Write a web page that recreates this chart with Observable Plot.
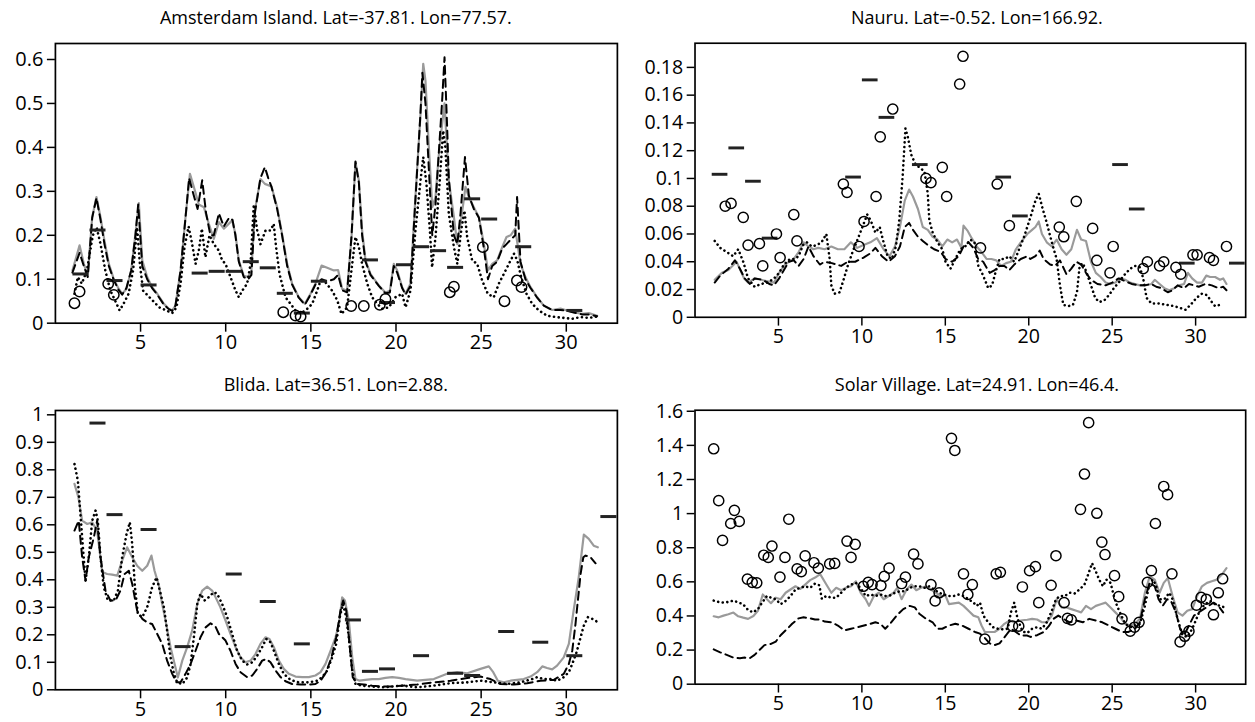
<!DOCTYPE html>
<html><head><meta charset="utf-8">
<script src="https://cdn.jsdelivr.net/npm/d3@7"></script>
<script src="https://cdn.jsdelivr.net/npm/@observablehq/plot@0.6"></script>
<style>
html,body{margin:0;padding:0;background:#fff;width:1255px;height:722px;overflow:hidden;}
#root{position:relative;width:1255px;height:722px;overflow:hidden;font-family:"Open Sans",sans-serif;}
.panel{position:absolute;}
.panel svg text{font-size:20px;font-family:"Open Sans",sans-serif;fill:#000;}
.title{position:absolute;width:600px;text-align:center;font-size:18px;line-height:24px;color:#000;white-space:nowrap;}
</style></head><body><div id="root"></div>
<script>
// ---------- shared ticks ----------
const xTicks = [5, 10, 15, 20, 25, 30];
const amsYTicks = [0, 0.1, 0.2, 0.3, 0.4, 0.5, 0.6];
const nauYTicks = [0, 0.02, 0.04, 0.06, 0.08, 0.1, 0.12, 0.14, 0.16, 0.18];
const bliYTicks = [0, 0.1, 0.2, 0.3, 0.4, 0.5, 0.6, 0.7, 0.8, 0.9, 1];
const solYTicks = [0, 0.2, 0.4, 0.6, 0.8, 1, 1.2, 1.4, 1.6];

// ---------- Amsterdam Island ----------
const amsGray = [[1.0,0.12],[1.42,0.177],[1.67,0.135],[1.9,0.108],[2.16,0.241],[2.41,0.287],[2.65,0.241],[2.88,0.188],[3.14,0.135],[3.43,0.10],[3.72,0.078],[3.92,0.067],[4.17,0.078],[4.45,0.12],[4.7,0.203],[4.9,0.273],[5.1,0.143],[5.39,0.105],[5.68,0.082],[5.98,0.067],[6.37,0.044],[6.66,0.033],[6.86,0.029],[7.05,0.04],[7.35,0.12],[7.64,0.241],[7.9,0.34],[8.13,0.31],[8.42,0.27],[8.72,0.264],[9.01,0.226],[9.3,0.192],[9.6,0.23],[9.89,0.215],[10.38,0.234],[10.57,0.203],[10.77,0.143],[11.06,0.108],[11.32,0.105],[11.51,0.12],[11.71,0.256],[12.04,0.328],[12.3,0.317],[12.69,0.311],[13.02,0.264],[13.31,0.203],[13.61,0.135],[13.9,0.09],[14.29,0.059],[14.65,0.044],[14.98,0.067],[15.27,0.09],[15.63,0.131],[15.96,0.126],[16.35,0.12],[16.6,0.121],[16.84,0.078],[17.13,0.074],[17.39,0.196],[17.62,0.366],[17.82,0.325],[18.01,0.211],[18.21,0.143],[18.5,0.112],[18.99,0.086],[19.38,0.07],[19.64,0.074],[19.87,0.135],[20.07,0.12],[20.36,0.082],[20.56,0.067],[20.85,0.09],[21.14,0.287],[21.44,0.476],[21.6,0.59],[21.73,0.552],[21.93,0.40],[22.13,0.264],[22.32,0.287],[22.5,0.378],[22.7,0.45],[22.85,0.50],[23.1,0.325],[23.4,0.241],[23.6,0.18],[23.79,0.226],[24.08,0.31],[24.28,0.287],[24.57,0.264],[24.87,0.241],[25.16,0.18],[25.4,0.12],[25.65,0.135],[25.94,0.143],[26.24,0.173],[26.49,0.196],[26.73,0.2],[27.0,0.215],[27.31,0.135],[27.6,0.105],[27.9,0.082],[28.29,0.059],[28.68,0.04],[29.17,0.03],[29.66,0.033],[30.05,0.029],[30.44,0.025],[30.93,0.021],[31.32,0.023],[31.81,0.017]];
const amsDash = [[1.0,0.115],[1.42,0.16],[1.67,0.13],[1.9,0.105],[2.16,0.24],[2.41,0.285],[2.65,0.235],[2.88,0.18],[3.14,0.13],[3.43,0.098],[3.72,0.075],[3.92,0.065],[4.17,0.08],[4.45,0.12],[4.7,0.2],[4.86,0.27],[5.1,0.13],[5.39,0.1],[5.68,0.08],[5.98,0.065],[6.37,0.042],[6.66,0.032],[6.86,0.028],[7.05,0.04],[7.35,0.12],[7.64,0.24],[7.85,0.33],[8.13,0.29],[8.35,0.26],[8.62,0.325],[8.85,0.25],[9.1,0.2],[9.3,0.2],[9.6,0.25],[9.89,0.22],[10.2,0.24],[10.4,0.235],[10.57,0.2],[10.77,0.14],[11.06,0.105],[11.32,0.1],[11.51,0.11],[11.71,0.25],[12.04,0.33],[12.3,0.355],[12.5,0.33],[12.69,0.31],[13.02,0.26],[13.31,0.2],[13.61,0.13],[13.9,0.088],[14.29,0.058],[14.65,0.042],[14.98,0.065],[15.27,0.088],[15.63,0.1],[15.96,0.095],[16.35,0.1],[16.6,0.11],[16.84,0.075],[17.13,0.07],[17.39,0.2],[17.62,0.368],[17.82,0.32],[18.01,0.2],[18.21,0.14],[18.5,0.11],[18.99,0.085],[19.38,0.068],[19.64,0.07],[19.87,0.13],[20.07,0.115],[20.36,0.08],[20.56,0.065],[20.85,0.085],[21.14,0.28],[21.44,0.48],[21.55,0.57],[21.73,0.5],[21.93,0.35],[22.13,0.2],[22.32,0.27],[22.5,0.38],[22.7,0.5],[22.85,0.605],[23.0,0.45],[23.1,0.33],[23.4,0.2],[23.6,0.18],[23.79,0.25],[24.05,0.378],[24.28,0.29],[24.57,0.26],[24.87,0.24],[25.16,0.17],[25.4,0.1],[25.65,0.13],[25.94,0.14],[26.24,0.17],[26.49,0.18],[26.73,0.19],[27.0,0.2],[27.11,0.287],[27.31,0.14],[27.6,0.1],[27.9,0.08],[28.29,0.058],[28.68,0.04],[29.17,0.03],[29.66,0.03],[30.05,0.028],[30.44,0.024],[30.93,0.02],[31.32,0.02],[31.81,0.016]];
const amsDot = [[1.12,0.067],[1.32,0.105],[1.55,0.09],[1.85,0.12],[2.2,0.2],[2.42,0.218],[2.65,0.18],[2.93,0.12],[3.22,0.075],[3.5,0.052],[3.77,0.029],[4.0,0.044],[4.3,0.067],[4.56,0.12],[4.8,0.218],[4.96,0.135],[5.15,0.074],[5.5,0.06],[5.8,0.048],[6.1,0.036],[6.5,0.029],[6.86,0.023],[7.11,0.036],[7.35,0.09],[7.58,0.173],[7.82,0.22],[8.03,0.18],[8.23,0.135],[8.42,0.165],[8.6,0.215],[8.81,0.15],[9.05,0.2],[9.3,0.18],[9.6,0.165],[9.79,0.143],[9.99,0.135],[10.28,0.105],[10.58,0.074],[10.77,0.059],[10.97,0.074],[11.26,0.09],[11.46,0.135],[11.65,0.27],[11.85,0.211],[12.04,0.18],[12.34,0.211],[12.63,0.211],[12.82,0.226],[12.96,0.173],[13.16,0.112],[13.51,0.059],[13.81,0.044],[14.1,0.029],[14.39,0.023],[14.69,0.029],[15.08,0.044],[15.37,0.074],[15.57,0.097],[15.86,0.093],[16.25,0.074],[16.55,0.052],[16.8,0.021],[17.13,0.036],[17.43,0.135],[17.62,0.196],[17.82,0.173],[18.01,0.135],[18.31,0.09],[18.6,0.059],[18.9,0.044],[19.19,0.033],[19.58,0.036],[19.97,0.059],[20.36,0.067],[20.56,0.036],[20.85,0.074],[21.14,0.211],[21.44,0.325],[21.6,0.378],[21.79,0.317],[21.99,0.211],[22.12,0.127],[22.32,0.196],[22.57,0.325],[22.77,0.438],[22.9,0.40],[23.1,0.249],[23.4,0.173],[23.6,0.135],[23.83,0.211],[24.02,0.256],[24.18,0.196],[24.47,0.143],[24.77,0.135],[25.06,0.097],[25.39,0.067],[25.74,0.059],[26.04,0.09],[26.33,0.112],[26.63,0.135],[26.93,0.158],[27.12,0.143],[27.35,0.105],[27.66,0.067],[28.0,0.044],[28.39,0.029],[28.87,0.017],[29.37,0.014],[29.85,0.012],[30.35,0.01],[30.83,0.014],[31.32,0.012],[31.81,0.015]];
const amsObs = [[1.12,0.0455],[1.42,0.072],[3.1,0.0895],[3.43,0.0645],[13.38,0.025],[14.1,0.0175],[14.4,0.015],[17.37,0.039],[18.11,0.039],[19.05,0.042],[19.38,0.055],[23.16,0.0705],[23.4,0.083],[25.1,0.173],[26.37,0.05],[27.1,0.097],[27.37,0.082]];
const amsMonthly = [[1.5,0.112],[2.5,0.212],[3.5,0.097],[5.5,0.087],[8.5,0.114],[9.5,0.118],[10.5,0.118],[11.5,0.14],[12.5,0.126],[13.5,0.068],[14.5,0.023],[15.5,0.0955],[18.5,0.144],[19.5,0.047],[20.5,0.133],[21.5,0.174],[22.5,0.165],[23.5,0.127],[24.5,0.283],[25.5,0.237],[27.5,0.174],[30.5,0.029]];

// ---------- Nauru ----------
const nauGray = [[1.18,0.027],[1.61,0.032],[2.0,0.034],[2.49,0.04],[2.94,0.028],[3.18,0.025],[3.57,0.028],[3.96,0.027],[4.35,0.026],[4.74,0.025],[5.04,0.032],[5.33,0.037],[5.62,0.04],[5.92,0.042],[6.21,0.047],[6.51,0.054],[6.8,0.051],[7.1,0.049],[7.38,0.05],[7.77,0.049],[8.17,0.051],[8.56,0.049],[8.95,0.049],[9.34,0.054],[9.72,0.05],[10.1,0.052],[10.51,0.054],[10.9,0.057],[11.3,0.049],[11.65,0.044],[11.98,0.051],[12.28,0.065],[12.57,0.084],[12.83,0.092],[13.06,0.087],[13.36,0.078],[13.65,0.065],[13.95,0.063],[14.24,0.058],[14.53,0.056],[14.82,0.051],[15.12,0.056],[15.41,0.054],[15.7,0.056],[15.96,0.05],[16.09,0.066],[16.35,0.062],[16.58,0.057],[16.88,0.051],[17.17,0.047],[17.47,0.042],[17.76,0.042],[18.05,0.041],[18.35,0.037],[18.64,0.039],[18.93,0.04],[19.23,0.049],[19.52,0.054],[19.91,0.06],[20.2,0.063],[20.4,0.065],[20.6,0.069],[20.79,0.06],[21.08,0.054],[21.38,0.051],[21.67,0.056],[21.97,0.049],[22.26,0.045],[22.55,0.049],[22.89,0.063],[23.14,0.056],[23.43,0.055],[23.73,0.04],[24.02,0.032],[24.31,0.029],[24.61,0.025],[24.9,0.024],[25.19,0.025],[25.48,0.028],[25.78,0.027],[26.07,0.025],[26.37,0.024],[26.66,0.023],[26.95,0.023],[27.35,0.024],[27.55,0.027],[27.84,0.024],[28.13,0.021],[28.42,0.0195],[28.72,0.021],[29.01,0.023],[29.31,0.024],[29.54,0.032],[29.79,0.028],[30.09,0.025],[30.38,0.025],[30.64,0.03],[30.87,0.029],[31.17,0.029],[31.46,0.027],[31.65,0.028],[31.85,0.024]];
const nauDash = [[1.18,0.025],[1.51,0.03],[2.0,0.035],[2.39,0.041],[2.69,0.035],[2.98,0.028],[3.28,0.024],[3.57,0.028],[4.06,0.027],[4.45,0.024],[4.74,0.023],[5.04,0.028],[5.33,0.034],[5.62,0.04],[5.92,0.041],[6.21,0.037],[6.51,0.042],[6.8,0.051],[7.1,0.044],[7.48,0.038],[7.77,0.04],[8.2,0.039],[8.76,0.037],[9.15,0.04],[9.6,0.04],[10.1,0.043],[10.5,0.046],[10.81,0.05],[11.2,0.044],[11.6,0.04],[11.98,0.044],[12.28,0.051],[12.57,0.065],[12.83,0.068],[13.06,0.063],[13.36,0.058],[13.65,0.055],[13.95,0.052],[14.33,0.049],[14.73,0.047],[15.01,0.042],[15.41,0.04],[15.8,0.044],[16.09,0.051],[16.39,0.054],[16.68,0.05],[16.97,0.042],[17.27,0.04],[17.66,0.032],[17.96,0.034],[18.25,0.037],[18.54,0.037],[18.84,0.034],[19.13,0.038],[19.52,0.042],[19.91,0.044],[20.1,0.042],[20.4,0.044],[20.66,0.048],[20.89,0.042],[21.28,0.038],[21.57,0.037],[21.87,0.041],[22.26,0.031],[22.55,0.035],[22.85,0.04],[23.14,0.038],[23.43,0.032],[23.73,0.027],[24.12,0.024],[24.61,0.023],[25.0,0.025],[25.39,0.028],[25.78,0.026],[26.17,0.024],[26.56,0.023],[26.95,0.023],[27.35,0.024],[27.64,0.022],[27.94,0.021],[28.33,0.018],[28.62,0.0195],[28.92,0.023],[29.31,0.021],[29.6,0.024],[29.9,0.023],[30.19,0.022],[30.58,0.024],[30.97,0.023],[31.36,0.021],[31.65,0.022],[31.85,0.0195]];
const nauDot = [[1.18,0.055],[1.51,0.05],[1.9,0.047],[2.29,0.044],[2.59,0.049],[2.89,0.04],[3.18,0.028],[3.57,0.022],[3.96,0.024],[4.35,0.025],[4.74,0.028],[5.04,0.032],[5.33,0.038],[5.69,0.042],[5.96,0.042],[6.21,0.044],[6.47,0.052],[6.7,0.054],[7.0,0.051],[7.29,0.052],[7.58,0.054],[7.87,0.06],[8.07,0.042],[8.17,0.023],[8.36,0.017],[8.66,0.018],[8.85,0.025],[9.15,0.037],[9.44,0.047],[9.74,0.056],[10.03,0.065],[10.32,0.074],[10.52,0.07],[10.81,0.061],[11.07,0.065],[11.3,0.054],[11.54,0.044],[11.79,0.042],[12.04,0.051],[12.24,0.07],[12.44,0.101],[12.61,0.136],[12.77,0.129],[12.96,0.117],[13.22,0.11],[13.45,0.108],[13.75,0.105],[13.95,0.089],[14.04,0.07],[14.24,0.061],[14.53,0.054],[14.82,0.049],[15.01,0.04],[15.31,0.035],[15.6,0.042],[15.9,0.049],[16.19,0.051],[16.49,0.056],[16.75,0.054],[16.98,0.037],[17.27,0.03],[17.57,0.021],[17.8,0.023],[18.0,0.032],[18.25,0.042],[18.54,0.042],[18.84,0.044],[19.13,0.04],[19.42,0.049],[19.72,0.058],[20.1,0.072],[20.4,0.084],[20.6,0.089],[20.79,0.08],[21.08,0.068],[21.38,0.054],[21.67,0.042],[21.87,0.023],[22.07,0.009],[22.36,0.008],[22.65,0.009],[22.89,0.018],[23.05,0.037],[23.25,0.039],[23.47,0.032],[23.73,0.023],[23.98,0.014],[24.22,0.011],[24.51,0.012],[24.81,0.016],[25.1,0.021],[25.39,0.025],[25.69,0.03],[26.08,0.035],[26.37,0.037],[26.66,0.036],[26.86,0.028],[27.06,0.014],[27.35,0.01],[27.75,0.01],[28.24,0.009],[28.72,0.008],[29.11,0.0066],[29.4,0.0054],[29.7,0.009],[30.05,0.014],[30.38,0.017],[30.68,0.016],[30.97,0.011],[31.17,0.008],[31.46,0.009]];
const nauObs = [[1.81,0.08],[2.16,0.082],[2.89,0.072],[3.18,0.052],[3.86,0.053],[4.06,0.037],[4.88,0.06],[5.1,0.043],[5.92,0.074],[6.11,0.055],[8.89,0.096],[9.11,0.09],[9.83,0.051],[10.13,0.069],[10.85,0.087],[11.1,0.13],[11.85,0.15],[13.84,0.1],[14.14,0.097],[14.82,0.108],[15.08,0.087],[15.86,0.168],[16.06,0.188],[17.11,0.05],[18.11,0.096],[18.84,0.066],[21.83,0.065],[22.1,0.058],[22.85,0.0835],[23.83,0.064],[24.08,0.041],[24.87,0.032],[25.06,0.051],[26.86,0.035],[27.11,0.04],[27.84,0.037],[28.09,0.04],[28.82,0.036],[29.11,0.031],[29.84,0.045],[30.09,0.045],[30.83,0.043],[31.07,0.041],[31.85,0.051]];
const nauMonthly = [[1.5,0.103],[2.5,0.122],[3.5,0.098],[4.5,0.057],[9.5,0.101],[10.5,0.171],[11.5,0.144],[13.5,0.11],[18.5,0.101],[19.5,0.073],[25.5,0.11],[26.5,0.078],[29.5,0.039],[32.5,0.039]];

// ---------- Blida ----------
const bliGray = [[1.12,0.749],[1.35,0.7],[1.57,0.615],[1.87,0.603],[2.16,0.609],[2.45,0.579],[2.75,0.428],[3.04,0.421],[3.33,0.419],[3.63,0.415],[3.92,0.47],[4.21,0.518],[4.51,0.482],[4.8,0.451],[5.1,0.433],[5.39,0.451],[5.64,0.488],[5.82,0.433],[6.08,0.379],[6.27,0.312],[6.47,0.251],[6.76,0.155],[7.0,0.094],[7.19,0.045],[7.45,0.106],[7.74,0.155],[8.03,0.215],[8.33,0.312],[8.62,0.361],[8.91,0.375],[9.2,0.361],[9.4,0.337],[9.69,0.3],[9.99,0.252],[10.28,0.203],[10.58,0.155],[10.87,0.118],[11.16,0.1],[11.46,0.106],[11.75,0.13],[12.04,0.167],[12.34,0.191],[12.57,0.185],[12.83,0.155],[13.12,0.106],[13.41,0.076],[13.71,0.058],[14.1,0.048],[14.49,0.046],[14.88,0.046],[15.27,0.052],[15.57,0.064],[15.86,0.094],[16.16,0.142],[16.45,0.191],[16.65,0.239],[16.84,0.336],[17.0,0.325],[17.23,0.252],[17.43,0.118],[17.62,0.039],[17.86,0.033],[18.2,0.036],[18.6,0.039],[18.99,0.039],[19.38,0.043],[19.77,0.046],[20.17,0.043],[20.56,0.039],[21.24,0.033],[22.22,0.039],[23.0,0.058],[23.59,0.064],[24.18,0.06],[24.96,0.076],[25.45,0.085],[25.71,0.064],[25.98,0.033],[26.33,0.027],[26.73,0.033],[27.11,0.036],[27.5,0.039],[27.9,0.048],[28.29,0.064],[28.59,0.085],[28.87,0.079],[29.17,0.074],[29.46,0.088],[29.85,0.118],[30.15,0.167],[30.43,0.288],[30.73,0.409],[31.03,0.564],[31.32,0.549],[31.61,0.524],[31.85,0.518]];
const bliDash = [[1.12,0.579],[1.37,0.615],[1.57,0.482],[1.77,0.397],[1.96,0.482],[2.26,0.555],[2.45,0.615],[2.65,0.482],[2.94,0.361],[3.23,0.325],[3.53,0.325],[3.82,0.361],[4.06,0.421],[4.31,0.433],[4.51,0.385],[4.8,0.288],[5.1,0.258],[5.39,0.245],[5.68,0.239],[5.98,0.203],[6.27,0.167],[6.56,0.106],[6.86,0.058],[7.11,0.027],[7.35,0.027],[7.64,0.058],[7.94,0.094],[8.23,0.142],[8.52,0.191],[8.82,0.227],[9.11,0.242],[9.4,0.23],[9.6,0.203],[9.99,0.179],[10.28,0.142],[10.58,0.094],[10.87,0.064],[11.26,0.046],[11.56,0.052],[11.85,0.076],[12.14,0.106],[12.38,0.112],[12.63,0.1],[12.93,0.07],[13.22,0.046],[13.51,0.031],[13.9,0.021],[14.39,0.019],[14.88,0.019],[15.27,0.021],[15.57,0.033],[15.9,0.064],[16.21,0.118],[16.49,0.191],[16.74,0.288],[16.9,0.325],[17.08,0.288],[17.27,0.167],[17.46,0.046],[17.72,0.021],[18.11,0.019],[18.6,0.015],[19.19,0.012],[19.77,0.012],[20.36,0.015],[21.24,0.019],[22.22,0.027],[23.2,0.033],[24.18,0.043],[24.96,0.048],[25.55,0.039],[26.14,0.021],[26.92,0.019],[27.7,0.024],[28.48,0.033],[29.27,0.036],[29.85,0.058],[30.15,0.094],[30.35,0.142],[30.54,0.239],[30.68,0.325],[30.84,0.421],[31.0,0.482],[31.13,0.488],[31.42,0.482],[31.72,0.46]];
const bliDot = [[1.12,0.821],[1.32,0.76],[1.47,0.639],[1.63,0.506],[1.77,0.397],[1.96,0.482],[2.16,0.615],[2.36,0.652],[2.49,0.615],[2.65,0.482],[2.84,0.373],[3.08,0.325],[3.43,0.325],[3.67,0.361],[3.92,0.482],[4.18,0.567],[4.37,0.609],[4.51,0.53],[4.67,0.373],[4.84,0.276],[5.1,0.264],[5.39,0.3],[5.68,0.373],[5.94,0.409],[6.13,0.361],[6.37,0.3],[6.56,0.215],[6.76,0.118],[6.96,0.058],[7.15,0.027],[7.45,0.021],[7.74,0.045],[7.94,0.094],[8.13,0.191],[8.33,0.312],[8.52,0.349],[8.76,0.325],[9.01,0.337],[9.3,0.355],[9.5,0.349],[9.79,0.312],[10.09,0.264],[10.38,0.203],[10.67,0.142],[10.97,0.106],[11.26,0.092],[11.56,0.1],[11.85,0.124],[12.14,0.155],[12.38,0.185],[12.63,0.173],[12.83,0.142],[13.12,0.094],[13.41,0.058],[13.81,0.036],[14.29,0.027],[14.88,0.027],[15.37,0.033],[15.67,0.046],[15.96,0.07],[16.25,0.118],[16.49,0.167],[16.7,0.264],[16.88,0.312],[17.08,0.264],[17.23,0.191],[17.43,0.07],[17.62,0.021],[18.01,0.015],[18.6,0.012],[19.19,0.009],[19.77,0.012],[20.36,0.015],[21.24,0.009],[22.22,0.015],[23.2,0.024],[24.18,0.027],[24.96,0.033],[25.74,0.027],[26.53,0.021],[27.31,0.027],[27.99,0.039],[28.29,0.046],[28.68,0.039],[29.07,0.039],[29.46,0.033],[29.85,0.046],[30.15,0.064],[30.35,0.094],[30.6,0.136],[30.84,0.191],[31.03,0.233],[31.27,0.264],[31.52,0.258],[31.77,0.249]];
const bliObs = [];
const bliMonthly = [[2.5,0.97],[3.5,0.637],[5.5,0.583],[7.5,0.157],[10.5,0.421],[12.5,0.321],[14.5,0.167],[17.5,0.254],[18.5,0.067],[19.5,0.076],[21.5,0.124],[23.5,0.06],[24.5,0.052],[26.5,0.212],[28.5,0.173],[30.5,0.124],[32.5,0.63]];

// ---------- Solar Village ----------
const solGray = [[1.12,0.398],[1.42,0.392],[1.71,0.402],[2.0,0.41],[2.3,0.42],[2.59,0.398],[2.89,0.39],[3.18,0.383],[3.5,0.40],[3.77,0.43],[4.06,0.526],[4.31,0.498],[4.55,0.475],[4.84,0.507],[5.13,0.498],[5.43,0.536],[5.72,0.555],[6.02,0.574],[6.31,0.559],[6.6,0.584],[6.9,0.61],[7.2,0.625],[7.5,0.645],[7.87,0.584],[8.17,0.536],[8.46,0.565],[8.76,0.551],[9.05,0.565],[9.35,0.574],[9.64,0.603],[9.93,0.536],[10.23,0.498],[10.43,0.459],[10.72,0.517],[11.01,0.536],[11.31,0.498],[11.6,0.517],[11.9,0.536],[12.12,0.565],[12.38,0.498],[12.68,0.555],[12.97,0.584],[13.26,0.551],[13.55,0.565],[13.85,0.574],[14.14,0.555],[14.43,0.536],[14.73,0.517],[15.02,0.517],[15.22,0.469],[15.51,0.474],[15.81,0.478],[16.09,0.459],[16.39,0.43],[16.69,0.402],[16.98,0.392],[17.17,0.344],[17.37,0.306],[17.66,0.306],[17.95,0.306],[18.25,0.325],[18.54,0.354],[18.84,0.373],[19.13,0.363],[19.4,0.37],[19.62,0.375],[19.91,0.378],[20.2,0.383],[20.5,0.379],[20.79,0.363],[21.08,0.363],[21.38,0.402],[21.67,0.498],[21.97,0.45],[22.26,0.45],[22.55,0.44],[22.85,0.43],[23.14,0.421],[23.43,0.459],[23.73,0.44],[24.02,0.459],[24.31,0.469],[24.61,0.478],[24.9,0.45],[25.19,0.421],[25.49,0.392],[25.78,0.354],[26.08,0.344],[26.37,0.354],[26.66,0.383],[26.96,0.536],[27.25,0.632],[27.55,0.613],[27.84,0.536],[28.09,0.594],[28.33,0.622],[28.62,0.517],[28.92,0.421],[29.21,0.402],[29.5,0.43],[29.8,0.44],[30.09,0.517],[30.38,0.574],[30.68,0.594],[30.97,0.603],[31.27,0.613],[31.56,0.641],[31.85,0.68]];
const solDash = [[1.12,0.204],[1.51,0.187],[1.9,0.172],[2.3,0.156],[2.69,0.152],[2.98,0.156],[3.28,0.152],[3.57,0.172],[3.86,0.2],[4.16,0.229],[4.55,0.236],[4.84,0.25],[5.13,0.287],[5.53,0.325],[5.82,0.354],[6.21,0.386],[6.51,0.392],[6.9,0.386],[7.19,0.379],[7.48,0.379],[7.77,0.367],[8.17,0.363],[8.56,0.344],[8.95,0.315],[9.35,0.325],[9.74,0.334],[10.13,0.344],[10.52,0.354],[10.81,0.363],[11.11,0.354],[11.4,0.325],[11.69,0.354],[12.08,0.402],[12.48,0.44],[12.87,0.459],[13.17,0.45],[13.46,0.411],[13.85,0.383],[14.24,0.363],[14.53,0.325],[14.82,0.325],[15.22,0.344],[15.6,0.354],[15.99,0.344],[16.39,0.325],[16.78,0.306],[17.08,0.296],[17.37,0.271],[17.66,0.239],[17.95,0.229],[18.25,0.239],[18.64,0.287],[18.93,0.325],[19.23,0.306],[19.52,0.285],[19.91,0.285],[20.1,0.277],[20.5,0.287],[20.89,0.306],[21.2,0.34],[21.48,0.383],[21.77,0.402],[22.07,0.383],[22.45,0.363],[22.85,0.373],[23.24,0.363],[23.63,0.383],[24.02,0.373],[24.41,0.363],[24.8,0.344],[25.19,0.325],[25.59,0.306],[25.98,0.306],[26.37,0.325],[26.66,0.363],[26.96,0.498],[27.25,0.594],[27.55,0.574],[27.78,0.498],[28.03,0.459],[28.29,0.498],[28.52,0.488],[28.82,0.421],[29.07,0.325],[29.31,0.287],[29.6,0.344],[29.9,0.402],[30.19,0.421],[30.48,0.44],[30.78,0.459],[31.07,0.478],[31.36,0.459],[31.65,0.421]];
const solDot = [[1.12,0.49],[1.42,0.482],[1.71,0.478],[2.0,0.482],[2.3,0.49],[2.59,0.48],[2.89,0.468],[3.18,0.435],[3.47,0.421],[3.77,0.44],[4.02,0.478],[4.31,0.517],[4.55,0.507],[4.84,0.498],[5.13,0.469],[5.43,0.488],[5.72,0.517],[6.02,0.555],[6.31,0.565],[6.6,0.574],[6.9,0.565],[7.19,0.59],[7.45,0.58],[7.6,0.5],[7.87,0.517],[8.17,0.507],[8.46,0.507],[8.76,0.536],[9.05,0.565],[9.35,0.584],[9.64,0.594],[9.95,0.56],[10.23,0.517],[10.52,0.526],[10.81,0.517],[11.11,0.526],[11.4,0.517],[11.69,0.521],[11.99,0.536],[12.28,0.545],[12.58,0.545],[12.87,0.565],[13.17,0.574],[13.46,0.574],[13.75,0.565],[14.04,0.574],[14.33,0.555],[14.63,0.536],[14.92,0.526],[15.22,0.517],[15.51,0.517],[15.81,0.526],[16.09,0.517],[16.39,0.498],[16.69,0.478],[16.88,0.459],[17.08,0.478],[17.28,0.402],[17.57,0.363],[17.86,0.334],[18.15,0.325],[18.45,0.321],[18.74,0.325],[18.93,0.421],[19.13,0.478],[19.33,0.383],[19.62,0.31],[19.91,0.3],[20.2,0.325],[20.5,0.334],[20.79,0.325],[21.08,0.363],[21.38,0.43],[21.63,0.498],[21.87,0.517],[22.16,0.517],[22.45,0.536],[22.75,0.532],[23.04,0.555],[23.34,0.584],[23.59,0.651],[23.79,0.709],[23.98,0.67],[24.22,0.613],[24.45,0.574],[24.65,0.613],[24.9,0.594],[25.1,0.517],[25.29,0.459],[25.55,0.402],[25.78,0.354],[26.08,0.334],[26.37,0.344],[26.66,0.354],[26.96,0.459],[27.25,0.594],[27.45,0.613],[27.64,0.574],[27.84,0.498],[28.13,0.498],[28.42,0.536],[28.62,0.498],[28.92,0.383],[29.21,0.287],[29.5,0.277],[29.8,0.325],[30.05,0.383],[30.28,0.44],[30.58,0.469],[30.87,0.488],[31.17,0.469],[31.46,0.459],[31.75,0.45]];
const solObs = [[1.12,1.38],[1.42,1.076],[1.65,0.843],[2.14,0.942],[2.36,1.019],[2.65,0.954],[3.14,0.616],[3.43,0.597],[3.7,0.594],[4.12,0.756],[4.39,0.743],[4.61,0.81],[5.09,0.628],[5.39,0.743],[5.62,0.967],[6.12,0.676],[6.37,0.66],[6.6,0.752],[7.13,0.712],[7.39,0.68],[8.07,0.705],[8.37,0.708],[9.11,0.839],[9.35,0.743],[9.6,0.82],[10.09,0.574],[10.38,0.597],[10.61,0.584],[11.14,0.578],[11.34,0.632],[11.63,0.68],[12.38,0.59],[12.61,0.628],[13.1,0.762],[13.36,0.705],[14.14,0.584],[14.39,0.488],[14.63,0.536],[15.37,1.441],[15.57,1.37],[16.09,0.647],[16.35,0.526],[16.62,0.584],[17.37,0.264],[18.05,0.647],[18.3,0.656],[19.03,0.34],[19.4,0.34],[19.62,0.57],[20.05,0.665],[20.4,0.689],[20.6,0.478],[21.34,0.58],[21.63,0.753],[22.12,0.478],[22.32,0.386],[22.55,0.377],[23.1,1.025],[23.34,1.232],[23.59,1.533],[24.08,1.002],[24.38,0.833],[24.57,0.76],[25.14,0.636],[25.39,0.513],[25.59,0.383],[26.08,0.311],[26.34,0.334],[26.61,0.363],[27.11,0.597],[27.35,0.666],[27.59,0.942],[28.09,1.159],[28.32,1.111],[28.58,0.647],[29.07,0.248],[29.35,0.281],[29.6,0.311],[30.05,0.463],[30.33,0.509],[30.64,0.498],[31.07,0.407],[31.36,0.536],[31.62,0.618]];
const solMonthly = [];

// ---------- layout ----------
const panels = [
  {title: "Amsterdam Island. Lat=-37.81. Lon=77.57.", gray: amsGray, dash: amsDash, dot: amsDot, obs: amsObs, monthly: amsMonthly, yTicks: amsYTicks, yMax: 0.6364, left: 0, frameLeft: 54.9, frameTop: 43, frameBottom: 322.7},
  {title: "Nauru. Lat=-0.52. Lon=166.92.", gray: nauGray, dash: nauDash, dot: nauDot, obs: nauObs, monthly: nauMonthly, yTicks: nauYTicks, yMax: 0.1974, left: 627, frameLeft: 695.9, frameTop: 43, frameBottom: 322.7},
  {title: "Blida. Lat=36.51. Lon=2.88.", gray: bliGray, dash: bliDash, dot: bliDot, obs: bliObs, monthly: bliMonthly, yTicks: bliYTicks, yMax: 1.0157, left: 0, frameLeft: 54.9, frameTop: 410, frameBottom: 689.3},
  {title: "Solar Village. Lat=24.91. Lon=46.4.", gray: solGray, dash: solDash, dot: solDot, obs: solObs, monthly: solMonthly, yTicks: solYTicks, yMax: 1.606, left: 627, frameLeft: 695.9, frameTop: 410, frameBottom: 689.6}
];
const frameW = 562;
const root = document.getElementById("root");
const fmt = d3.format("~g");
const X = d => d[0], Y = d => d[1];

for (const p of panels) {
  const top = p.frameTop - 13;
  const marginLeft = p.frameLeft - p.left;
  const width = marginLeft + frameW + 10;
  const height = (p.frameBottom - top) + 34;
  const chart = Plot.plot({
    width, height,
    marginLeft, marginRight: 10, marginTop: 13, marginBottom: 34,
    x: {domain: [0, 33]},
    y: {domain: [0, p.yMax]},
    style: {fontFamily: "'Open Sans', sans-serif", fontSize: "20px", color: "#000", background: "transparent", overflow: "visible"},
    marks: [
      Plot.line(p.gray, {x: X, y: Y, stroke: "#9a9a9a", strokeWidth: 2.2}),
      Plot.line(p.dash, {x: X, y: Y, stroke: "#000", strokeWidth: 2, strokeDasharray: "8,5"}),
      Plot.line(p.dot, {x: X, y: Y, stroke: "#000", strokeWidth: 2.6, strokeDasharray: "0.1,4.6", strokeLinecap: "round"}),
      Plot.ruleY(p.monthly, {x1: d => d[0] - 0.47, x2: d => d[0] + 0.47, y: Y, stroke: "#222", strokeWidth: 3}),
      Plot.dot(p.obs, {x: X, y: Y, r: 5.2, stroke: "#000", strokeWidth: 1.5, fill: "none"}),
      Plot.frame({stroke: "#000", strokeWidth: 1.7}),
      Plot.axisX({ticks: xTicks, tickSize: 9, tickPadding: 3, tickFormat: d => String(d), label: null, fontSize: "20px", strokeWidth: 1.5}),
      Plot.axisY({ticks: p.yTicks, tickSize: 8, tickPadding: 4, tickFormat: fmt, label: null, fontSize: "20px", strokeWidth: 1.5})
    ]
  });
  const wrap = document.createElement("div");
  wrap.className = "panel";
  wrap.style.left = p.left + "px";
  wrap.style.top = top + "px";
  wrap.appendChild(chart);
  root.appendChild(wrap);

  const t = document.createElement("div");
  t.className = "title";
  t.textContent = p.title;
  t.style.left = (p.frameLeft + frameW / 2 - 300) + "px";
  t.style.top = (p.frameTop - 26 - 12) + "px";
  root.appendChild(t);
}
</script></body></html>
